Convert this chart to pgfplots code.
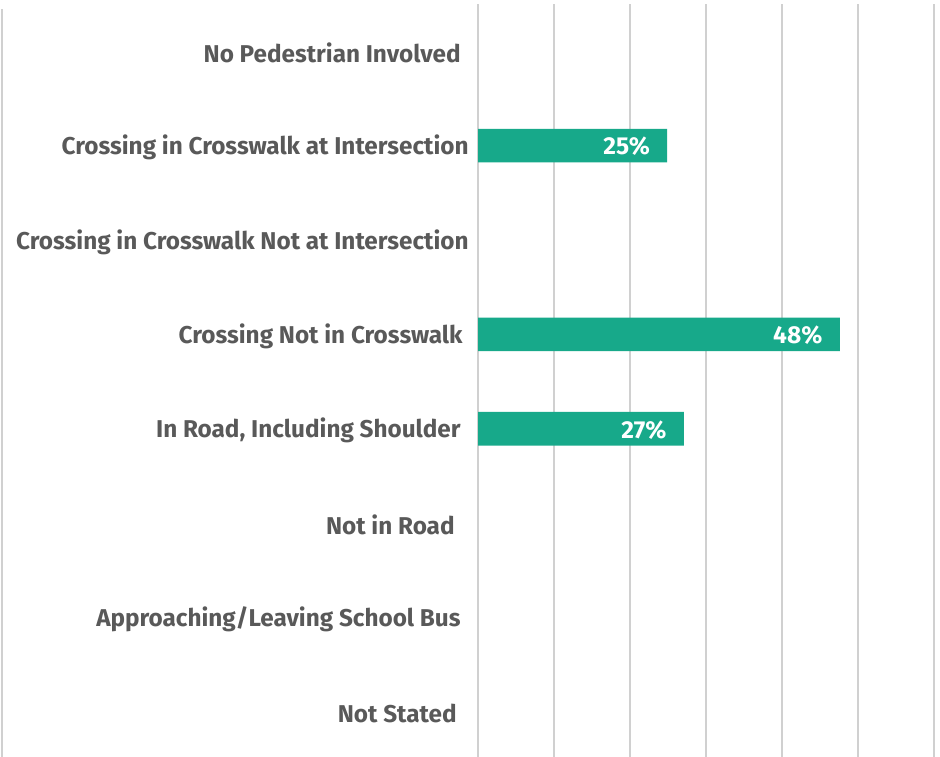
\documentclass[border=0pt]{standalone}
\usepackage{fontspec}
\setmainfont{Fira Sans}
\usepackage{pgfplots}
\pgfplotsset{compat=1.18}
\definecolor{bartxt}{HTML}{595959}
\definecolor{barfill}{HTML}{17A98A}
\definecolor{gridc}{HTML}{D0D0D0}
\begin{document}
\begin{tikzpicture}
\path[use as bounding box] (0,0) rectangle (470bp,378.5bp);
\draw[gridc, line width=0.6bp] (1bp,0) -- (1bp,374bp);
\begin{axis}[
    at={(239bp,-1bp)}, anchor=south west,
    scale only axis,
    width=228bp, height=377.5bp,
    xbar, bar width=16.8bp,
    xmin=0, xmax=60,
    ymin=-0.5, ymax=7.5,
    y dir=reverse,
    axis line style={draw=none},
    xtick={0,10,...,60},
    xticklabels={},
    xmajorgrids,
    grid style={gridc, line width=0.6bp},
    ytick={0,...,7},
    yticklabels={
        No Pedestrian Involved\hspace*{4bp},
        Crossing in Crosswalk at Intersection,
        Crossing in Crosswalk Not at Intersection,
        Crossing Not in Crosswalk\hspace*{3bp},
        {In Road, Including Shoulder\hspace*{4bp}},
        Not in Road\hspace*{7bp},
        Approaching/Leaving School Bus\hspace*{4bp},
        Not Stated\hspace*{6bp}},
    major tick length=0pt,
    tick style={draw=none},
    yticklabel style={font=\fontsize{12.2}{14}\selectfont\bfseries, text=bartxt, inner sep=0pt, anchor=east, xshift=-4.5bp, yshift=-1bp},
    /pgf/number format/assume math mode=true,
    point meta=explicit symbolic,
    nodes near coords={\pgfplotspointmeta\%},
    every node near coord/.append style={font=\fontsize{12.3}{14}\selectfont\bfseries, text=white, anchor=east, inner sep=0pt, xshift=-8.5bp, yshift=-0.5bp},
    clip=false,
]
\addplot[fill=barfill, draw=none] coordinates {(24.9,1) [25] (47.6,3) [48] (27.1,4) [27]};
\end{axis}
\end{tikzpicture}
\end{document}
